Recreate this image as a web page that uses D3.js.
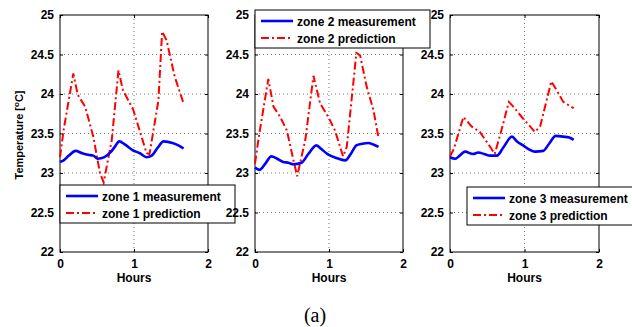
<!DOCTYPE html>
<html>
<head>
<meta charset="utf-8">
<script src="https://cdn.jsdelivr.net/npm/d3@7"></script>
<style>
  html, body { margin: 0; padding: 0; background: #fff; }
  svg { display: block; }
  text { font-family: Arial, "Liberation Sans", sans-serif; }
</style>
</head>
<body>
<svg id="chart" width="632" height="327"></svg>
<script>
// ---------- data ----------
const xTicks = [0, 1, 2];
const yTicks = [22, 22.5, 23, 23.5, 24, 24.5, 25];
const yTickLabels = ["22", "22.5", "23", "23.5", "24", "24.5", "25"];

const zone1MeasHours = [0, 0.05, 0.12, 0.21, 0.3, 0.38, 0.45, 0.51, 0.6, 0.68, 0.74, 0.8, 0.88, 0.98, 1.08, 1.17, 1.24, 1.32, 1.4, 1.52, 1.6, 1.67];
const zone1MeasTemp  = [23.14, 23.16, 23.22, 23.28, 23.25, 23.23, 23.22, 23.18, 23.2, 23.26, 23.33, 23.4, 23.36, 23.29, 23.25, 23.2, 23.22, 23.32, 23.4, 23.38, 23.35, 23.31];
const zone1PredHours = [0, 0.05, 0.18, 0.24, 0.34, 0.45, 0.54, 0.59, 0.7, 0.79, 0.85, 0.99, 1.17, 1.21, 1.33, 1.38, 1.44, 1.55, 1.67];
const zone1PredTemp  = [23.2, 23.55, 24.26, 23.99, 23.84, 23.46, 23.0, 22.88, 23.42, 24.3, 24.05, 23.8, 23.25, 23.24, 23.92, 24.79, 24.68, 24.22, 23.88];

const zone2MeasHours = [0, 0.06, 0.14, 0.22, 0.3, 0.38, 0.45, 0.52, 0.63, 0.72, 0.83, 0.9, 0.98, 1.1, 1.22, 1.3, 1.37, 1.45, 1.53, 1.6, 1.67];
const zone2MeasTemp  = [23.07, 23.04, 23.12, 23.21, 23.18, 23.14, 23.13, 23.11, 23.13, 23.24, 23.35, 23.3, 23.24, 23.19, 23.16, 23.25, 23.35, 23.37, 23.38, 23.36, 23.33];
const zone2PredHours = [0, 0.05, 0.18, 0.25, 0.34, 0.43, 0.52, 0.57, 0.68, 0.79, 0.88, 0.99, 1.08, 1.19, 1.24, 1.37, 1.42, 1.51, 1.6, 1.67];
const zone2PredTemp  = [23.12, 23.45, 24.19, 23.84, 23.71, 23.54, 23.16, 22.96, 23.42, 24.23, 23.88, 23.71, 23.54, 23.21, 23.33, 24.52, 24.49, 24.09, 23.8, 23.44];

const zone3MeasHours = [0, 0.07, 0.13, 0.2, 0.31, 0.38, 0.46, 0.54, 0.63, 0.72, 0.83, 0.9, 0.98, 1.06, 1.14, 1.25, 1.33, 1.42, 1.52, 1.6, 1.66];
const zone3MeasTemp  = [23.2, 23.18, 23.22, 23.27, 23.24, 23.26, 23.24, 23.22, 23.22, 23.33, 23.46, 23.4, 23.35, 23.3, 23.27, 23.28, 23.37, 23.47, 23.46, 23.45, 23.42];
const zone3PredHours = [0, 0.05, 0.18, 0.29, 0.4, 0.54, 0.6, 0.69, 0.79, 0.85, 0.98, 1.14, 1.21, 1.36, 1.43, 1.52, 1.66];
const zone3PredTemp  = [23.21, 23.3, 23.71, 23.59, 23.52, 23.33, 23.24, 23.54, 23.9, 23.84, 23.69, 23.52, 23.59, 24.16, 24.05, 23.9, 23.82];

const measLabels = ["zone 1 measurement", "zone 2 measurement", "zone 3 measurement"];
const predLabels = ["zone 1 prediction", "zone 2 prediction", "zone 3 prediction"];

// ---------- layout ----------
const panels = [
  { left: 60,  right: 208, meas: [zone1MeasHours, zone1MeasTemp], pred: [zone1PredHours, zone1PredTemp], legend: { x: 60,  y: 185 }, ylabel: true },
  { left: 255, right: 403, meas: [zone2MeasHours, zone2MeasTemp], pred: [zone2PredHours, zone2PredTemp], legend: { x: 255, y: 10 },  ylabel: false },
  { left: 450, right: 599, meas: [zone3MeasHours, zone3MeasTemp], pred: [zone3PredHours, zone3PredTemp], legend: { x: 467, y: 187 }, ylabel: false }
];
const plotTop = 15, plotBottom = 252;
const blue = "#0000ff", red = "#ff0000";
const dashPred = "8,3,2,3";

const svg = d3.select("#chart");

panels.forEach((p, i) => {
  const x = d3.scaleLinear().domain([0, 2]).range([p.left, p.right]);
  const y = d3.scaleLinear().domain([22, 25]).range([plotBottom, plotTop]);
  const g = svg.append("g");

  // grid
  g.selectAll(".hgrid").data(yTicks.slice(1, -1)).join("line")
    .attr("x1", p.left).attr("x2", p.right)
    .attr("y1", d => y(d)).attr("y2", d => y(d))
    .attr("stroke", "#555").attr("stroke-width", 0.8).attr("stroke-dasharray", "1,3");
  g.selectAll(".vgrid").data(xTicks.slice(1, -1)).join("line")
    .attr("x1", d => x(d)).attr("x2", d => x(d))
    .attr("y1", plotTop).attr("y2", plotBottom)
    .attr("stroke", "#555").attr("stroke-width", 0.8).attr("stroke-dasharray", "1,3");

  // axes (inward ticks)
  const yAxis = d3.axisLeft(y).tickValues(yTicks).tickFormat((d, k) => yTickLabels[k]).tickSizeInner(-3).tickSizeOuter(0).tickPadding(6);
  const xAxis = d3.axisBottom(x).tickValues(xTicks).tickFormat(d3.format("d")).tickSizeInner(-3).tickSizeOuter(0).tickPadding(7);
  const ya = g.append("g").attr("transform", `translate(${p.left},0)`).call(yAxis);
  const xa = g.append("g").attr("transform", `translate(0,${plotBottom})`).call(xAxis);
  [ya, xa].forEach(a => {
    a.select(".domain").remove();
    a.selectAll("line").attr("stroke", "#000");
    a.selectAll("text").attr("font-size", 12).attr("font-weight", "bold").attr("fill", "#000")
      .attr("font-family", "Arial, 'Liberation Sans', sans-serif");
  });
  // right / top ticks
  const yr = g.append("g").attr("transform", `translate(${p.right},0)`)
    .call(d3.axisRight(y).tickValues(yTicks).tickSizeInner(-3).tickSizeOuter(0).tickFormat(""));
  yr.select(".domain").remove();
  yr.selectAll("line").attr("stroke", "#000");
  const xt = g.append("g").attr("transform", `translate(0,${plotTop})`)
    .call(d3.axisTop(x).tickValues(xTicks).tickSizeInner(-3).tickSizeOuter(0).tickFormat(""));
  xt.select(".domain").remove();
  xt.selectAll("line").attr("stroke", "#000");

  // frame
  g.append("rect").attr("x", p.left).attr("y", plotTop)
    .attr("width", p.right - p.left).attr("height", plotBottom - plotTop)
    .attr("fill", "none").attr("stroke", "#000").attr("stroke-width", 1);

  // lines
  const measData = p.meas[0].map((h, k) => [h, p.meas[1][k]]);
  const predData = p.pred[0].map((h, k) => [h, p.pred[1][k]]);
  const lineSmooth = d3.line().x(d => x(d[0])).y(d => y(d[1])).curve(d3.curveMonotoneX);
  const lineLin = d3.line().x(d => x(d[0])).y(d => y(d[1]));
  g.append("path").attr("d", lineLin(predData)).attr("fill", "none")
    .attr("stroke", red).attr("stroke-width", 2).attr("stroke-dasharray", dashPred);
  g.append("path").attr("d", lineSmooth(measData)).attr("fill", "none")
    .attr("stroke", blue).attr("stroke-width", 2.6).attr("stroke-linejoin", "round");

  // x label
  g.append("text").attr("x", x(1)).attr("y", 282).attr("text-anchor", "middle")
    .attr("font-size", 12).attr("font-weight", "bold").text("Hours");

  // legend
  const L = p.legend;
  const lg = g.append("g").attr("transform", `translate(${L.x},${L.y})`);
  lg.append("rect").attr("x", 0).attr("y", 0).attr("width", 175).attr("height", 38)
    .attr("fill", "#fff").attr("stroke", "#000").attr("stroke-width", 1);
  lg.append("line").attr("x1", 6).attr("x2", 38).attr("y1", 11).attr("y2", 11)
    .attr("stroke", blue).attr("stroke-width", 2.6);
  lg.append("line").attr("x1", 6).attr("x2", 38).attr("y1", 28).attr("y2", 28)
    .attr("stroke", red).attr("stroke-width", 2).attr("stroke-dasharray", dashPred);
  lg.append("text").attr("x", 42).attr("y", 15.5).attr("font-size", 12).attr("font-weight", "bold").text(measLabels[i]);
  lg.append("text").attr("x", 42).attr("y", 32.5).attr("font-size", 12).attr("font-weight", "bold").text(predLabels[i]);

  if (p.ylabel) {
    const t = g.append("text").attr("transform", "translate(23,135) rotate(-90)")
      .attr("text-anchor", "middle").attr("font-size", 11).attr("font-weight", "bold");
    t.append("tspan").text("Temperature [");
    t.append("tspan").attr("font-size", 8).attr("dy", -4).text("o");
    t.append("tspan").attr("dy", 4).text("C]");
  }
});

svg.append("text").attr("x", 315).attr("y", 322).attr("text-anchor", "middle")
  .style("font-family", "'Liberation Serif', 'Times New Roman', serif").attr("font-size", 20).text("(a)");
</script>
</body>
</html>
